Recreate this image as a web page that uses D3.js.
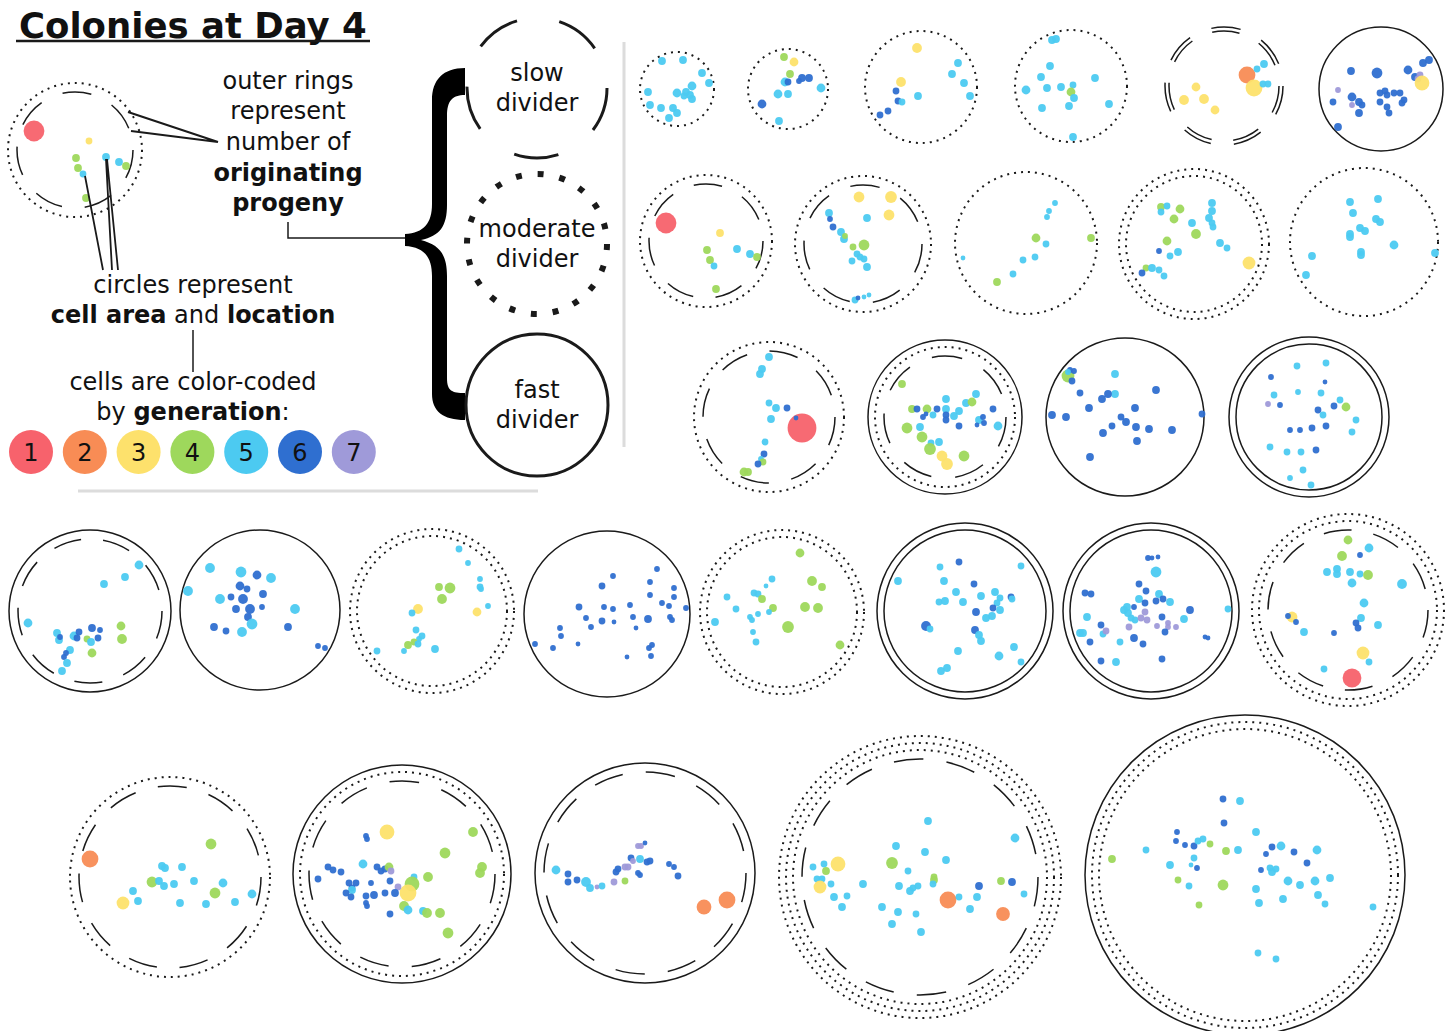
<!DOCTYPE html>
<html>
<head>
<meta charset="utf-8">
<script src="https://cdn.jsdelivr.net/npm/d3@7"></script>
<style>
  body { margin: 0; background: #fff; }
  svg { display: block; }
  text { font-family: "DejaVu Sans", Verdana, sans-serif; fill: #111; }
</style>
</head>
<body>
<div id="chart"></div>
<script>
// ---- data ----
const generations = [1, 2, 3, 4, 5, 6, 7];
const genColors = ['#f7626c', '#f88c55', '#fde16c', '#9ed85c', '#4ccaf1', '#2f6fd0', '#9f9ad9'];
const dividers = ['slow', 'moderate', 'fast'];

// colonies on the plate (µm); rings listed outermost first:
// s = fast divider (solid), o = moderate divider (dotted), d = slow divider (dashed)
const colonyNames = ['key', 'c01', 'c02', 'c03', 'c04', 'c05', 'c06', 'c07', 'c08', 'c09', 'c10', 'c11', 'c12', 'c13',
  'c14', 'c15', 'c16', 'c17', 'c18', 'c19', 'c20', 'c21', 'c22', 'c23', 'c24', 'c25', 'c26', 'c27', 'c28'];
const colonyX = [75, 677, 788, 921, 1071, 1224, 1381, 706, 863, 1026, 1194, 1364, 769, 945, 1125, 1309,
  90, 260, 432, 607, 782, 965, 1151, 1348, 170, 402, 645, 920, 1245];
const colonyY = [150, 89, 89, 87, 86, 86, 89, 241, 244, 243, 244, 242, 417, 417, 417, 417,
  611, 610, 611, 614, 612, 611, 611, 610, 877, 874, 873, 877, 875];
const colonyR = [67, 37, 40, 56, 56, 59, 62, 66, 68, 71, 75, 74, 75, 77, 79, 80,
  81, 80, 82, 83, 82, 88, 88, 96, 100, 109, 110, 141, 160];
const colonyRings = ['od', 'o', 'o', 'o', 'o', 'dd', 's', 'od', 'od', 'o', 'oo', 'o', 'od', 'sod', 's', 'ss',
  'sd', 's', 'oo', 's', 'oo', 'ss', 'ss', 'ood', 'od', 'sod', 'sd', 'oood', 'soo'];

// cells: [x, y, generation, radius] in µm
const cellsKey = [[34,131,1,10],[89,141,3,3],[76,158,4,3.5],[78,168,4,3.5],[83,174,5,3],[106,157,5,3.5],[119,162,5,3.5],[126,166,4,3.5],[86,198,4,3.5]];
const cells01 = [[662,61,5,3.5],[683,60,5,3.5],[702,73,5,3.5],[709,83,5,3.5],[692,86,5,4],[648,92,5,3.5],[677,93,5,4],[686,92,5,3.5],[690,95,5,3.5],[692,99,5,3.5],[684,96,5,3],[650,105,5,3.5],[661,108,5,3.5],[673,108,5,3.5],[677,113,5,3.5],[669,118,5,3.5]];
const cells02 = [[784,57,4,3.5],[794,62,3,4],[790,74,4,3.5],[785,82,5,4],[788,82,6,3],[802,78,6,3.5],[809,78,6,3.5],[799,81,6,2.5],[821,88,5,4],[778,94,5,4],[788,94,5,3.5],[762,104,6,4],[779,121,5,3.5]];
const cells03 = [[917,48,3,4.5],[901,82,3,4.5],[958,63,5,3.5],[952,74,5,3.5],[964,83,5,3.5],[970,96,5,3.5],[918,96,5,3.5],[896,91,6,3],[898,101,6,3],[902,102,5,3],[888,111,6,3],[880,115,6,3]];
const cells04 = [[1052,40,5,3.5],[1056,39,5,3.5],[1050,66,5,3.5],[1041,77,5,3.5],[1026,90,5,4],[1047,88,5,3.5],[1061,87,5,3.5],[1073,85,5,3],[1071,92,4,4],[1074,98,5,3.5],[1069,106,5,3.5],[1042,108,5,3.5],[1095,78,5,3.5],[1109,104,5,3.5],[1073,137,5,3.5]];
const cells05 = [[1247,75,2,8],[1254,88,3,8],[1257,69,5,3],[1264,64,5,3.5],[1263,84,5,3],[1268,84,5,3],[1196,87,3,4],[1184,100,3,4.5],[1204,99,3,4.5],[1215,110,3,4]];
const cells06 = [[1351,71,6,3.5],[1377,73,6,5],[1408,70,6,4],[1423,63,6,3.5],[1429,60,6,3.5],[1415,77,6,3.5],[1420,75,7,3],[1418,79,7,3],[1422,83,3,7],[1338,90,7,2.5],[1352,97,6,4],[1359,102,6,3.5],[1362,105,6,3],[1352,105,7,2.5],[1333,102,6,3],[1359,113,6,3.5],[1338,127,6,3.5],[1380,93,6,3],[1385,91,6,3],[1387,95,6,3],[1394,93,6,3],[1400,93,6,3],[1380,102,6,3],[1387,107,6,3],[1389,113,6,3],[1404,100,6,3],[1402,103,6,3]];
const cells07 = [[666,223,1,10],[720,233,3,3.5],[707,250,4,3.5],[710,260,4,3.5],[714,266,5,3],[737,249,5,3.5],[750,254,5,3.5],[757,257,4,3.5],[716,289,4,3.5]];
const cells08 = [[859,197,3,5],[891,197,3,5.5],[889,215,3,5],[829,213,5,3.5],[830,219,6,2.5],[833,227,6,3],[841,232,5,3.5],[844,239,5,3.5],[845,236,4,2.5],[864,245,4,5],[853,247,4,3],[867,218,5,3.5],[857,254,5,3],[860,257,5,3],[864,259,5,3],[852,261,5,3],[867,267,5,3.5],[855,300,5,3],[858,298,6,2],[864,297,5,2],[869,295,5,2]];
const cells09 = [[1055,203,5,2.5],[1049,211,5,2.5],[1047,217,5,2.5],[1036,238,4,4],[1091,238,4,3.5],[1046,244,5,3],[1035,257,5,3],[1023,260,5,3],[1013,274,5,3],[997,282,4,3.5],[963,258,5,2]];
const cells10 = [[1161,207,4,3.5],[1167,206,5,3],[1161,212,5,3],[1180,209,4,4],[1212,203,5,3.5],[1212,211,5,3.5],[1209,218,5,3.5],[1212,223,5,3],[1213,227,5,3],[1174,219,4,4],[1192,223,5,3.5],[1196,234,4,4.5],[1167,241,4,4],[1220,243,5,3.5],[1227,248,5,3],[1159,251,6,2.5],[1178,252,5,3.5],[1170,256,5,3],[1146,268,4,3],[1152,268,5,3.5],[1159,270,5,3],[1142,273,6,3],[1164,276,5,3],[1249,263,3,6]];
const cells11 = [[1350,202,5,3.5],[1378,199,5,3.5],[1353,213,5,3.5],[1376,219,5,3.5],[1380,222,5,3.5],[1360,228,5,3.5],[1365,231,5,3.5],[1350,234,5,3.5],[1350,237,5,3.5],[1394,245,5,4],[1361,252,5,3.5],[1361,255,5,3.5],[1312,256,5,3.5],[1306,275,5,3.5],[1435,253,5,3.5]];
const cells12 = [[769,357,5,3.5],[762,369,5,3.5],[760,374,5,3.5],[769,403,5,3],[776,408,5,3.5],[787,408,6,3],[771,419,5,3.5],[802,428,1,14],[796,418,6,2],[765,442,5,3],[764,454,6,3],[761,459,5,2.5],[763,462,4,3],[758,464,6,3],[744,472,4,4],[748,472,4,3.5]];
const cells13 = [[902,384,4,3.5],[912,409,4,3.5],[927,409,4,4],[917,409,6,3],[937,409,6,3],[946,399,5,3.5],[946,409,5,3.5],[959,411,5,3.5],[966,403,5,3.5],[972,402,4,4],[976,394,5,3.5],[907,428,4,5],[920,427,5,3.5],[922,437,4,5],[939,442,5,3.5],[931,443,5,3],[930,449,4,5.5],[942,456,3,5],[947,464,3,5.5],[964,456,4,5],[933,415,5,3],[946,415,6,3],[946,420,6,3],[959,426,6,3],[954,416,5,3.5],[923,417,6,2.5],[993,409,6,3],[979,420,5,3.5],[983,417,6,2.5],[984,423,6,2.5],[977,425,6,2],[998,426,5,4],[926,414,6,2]];
const cells14 = [[1068,376,4,6],[1070,370,6,2.5],[1074,371,6,2.5],[1068,372,5,2.5],[1072,381,6,3],[1080,393,6,3],[1115,374,5,3.5],[1115,394,5,3.5],[1108,394,6,3.5],[1102,399,6,3.5],[1156,390,6,3.5],[1052,415,6,3.5],[1066,417,6,3.5],[1089,408,6,3.5],[1135,408,6,3.5],[1121,417,6,3],[1126,422,6,3.5],[1112,426,6,3],[1136,427,6,3.5],[1149,429,6,3.5],[1172,430,6,3.5],[1103,433,6,3.5],[1137,441,6,3.5],[1090,457,6,3.5],[1202,414,6,3]];
const cells15 = [[1297,366,5,3],[1326,363,5,3],[1271,377,6,2.5],[1274,395,5,3],[1268,404,7,2.5],[1280,405,6,2.5],[1298,392,5,2.5],[1321,393,5,3],[1325,382,6,2],[1346,407,4,4],[1334,406,6,3],[1340,400,5,3],[1318,410,6,3],[1326,426,6,3],[1312,428,6,3],[1300,430,6,2.5],[1290,430,6,2.5],[1323,415,5,3],[1356,420,5,3],[1352,432,5,3],[1270,447,5,3],[1316,450,6,3],[1301,452,5,3],[1287,452,5,3],[1303,470,5,3],[1311,485,5,3],[1290,478,5,2.5]];
const cells16 = [[139,565,5,4],[125,577,5,3.5],[104,584,5,3.5],[28,623,5,4],[57,633,5,3.5],[59,640,5,3.5],[60,637,6,2.5],[74,636,5,4],[79,632,6,3],[77,638,6,3],[92,628,6,3.5],[100,630,6,2.5],[87,639,4,3],[91,642,5,3.5],[98,638,6,3],[121,626,4,4],[122,639,4,4.5],[92,653,4,4],[70,650,5,3.5],[66,653,6,2.5],[64,657,6,2.5],[67,663,5,3.5],[62,671,5,3.5]];
const cells17 = [[210,568,5,4.5],[241,572,5,5],[257,575,6,4],[271,578,5,4.5],[188,591,5,4.5],[240,586,6,4],[247,589,6,3],[263,594,6,3.5],[220,599,5,4.5],[231,597,6,3],[243,599,6,4.5],[236,609,6,3.5],[250,609,6,4.5],[262,607,6,2.5],[295,609,5,4.5],[248,617,6,3.5],[252,624,5,5],[214,627,6,3.5],[226,631,6,3],[242,632,5,4.5],[288,627,6,3.5],[318,646,6,2.5],[325,648,6,2.5]];
const cells18 = [[459,549,5,3],[468,563,5,2.5],[480,579,5,2.5],[480,587,5,3],[481,589,5,2.5],[488,606,5,2.5],[477,612,3,4],[439,587,4,3.5],[450,588,4,5],[442,599,4,4.5],[418,609,3,4.5],[412,613,5,3],[416,630,5,3],[422,636,5,3],[419,639,5,2.5],[408,645,4,3.5],[414,642,4,3],[418,644,5,3],[435,649,5,3.5],[377,651,5,3],[404,651,5,2.5]];
const cells19 = [[613,576,6,2.5],[657,569,6,2.5],[602,586,6,3],[650,582,6,2.5],[674,588,6,2.5],[674,597,6,2.5],[650,595,6,2.5],[662,603,6,2.5],[669,606,6,2.5],[686,608,6,2.5],[579,607,6,3],[604,607,6,2.5],[613,609,6,2.5],[630,605,6,2.5],[586,618,6,2.5],[602,621,6,3],[614,622,6,2],[633,617,6,2.5],[648,619,6,3.5],[670,617,6,2.5],[672,620,6,2.5],[560,628,6,2.5],[591,627,6,2.5],[636,628,6,2],[561,636,6,2.5],[578,644,6,2],[535,644,6,2.5],[553,648,6,2.5],[649,648,6,2.5],[652,645,6,2.5],[627,657,6,2],[651,656,6,2.5]];
const cells20 = [[800,553,4,4],[772,579,5,3],[766,586,5,2],[812,581,4,4.5],[822,587,4,3.5],[727,597,5,3],[754,593,5,3],[758,594,5,3],[762,599,4,3.5],[773,608,4,3.5],[736,609,5,3],[715,622,5,3.5],[750,617,5,2.5],[752,620,5,2.5],[758,614,5,2.5],[769,612,5,2.5],[805,607,4,4.5],[818,608,4,4.5],[788,627,4,5.5],[753,632,5,2.5],[756,642,5,3],[840,645,4,4]];
const cells21 = [[959,562,6,3],[940,567,5,3],[1021,566,5,3],[898,581,5,3.5],[944,581,5,3.5],[974,584,6,3],[956,592,5,3.5],[995,592,5,3.5],[981,596,5,3.5],[963,602,5,3.5],[939,602,5,3],[945,601,5,3.5],[1011,597,6,3],[1012,599,5,3],[1000,598,5,3],[997,603,5,3],[993,608,6,3],[1000,610,5,3.5],[976,612,6,3.5],[992,616,5,3.5],[986,618,5,3.5],[926,626,6,4.5],[930,629,5,3],[975,630,6,3.5],[979,635,5,3.5],[981,641,5,3.5],[958,651,5,3.5],[1014,647,5,3.5],[999,656,5,4],[1021,662,5,3],[947,668,5,3.5],[941,671,5,3.5]];
const cells22 = [[1148,558,6,2.5],[1152,558,6,2],[1158,557,6,2],[1156,572,5,5],[1085,593,6,3],[1091,594,6,3],[1139,584,6,3],[1146,591,6,3],[1159,594,5,3.5],[1170,602,5,3.5],[1163,599,6,3],[1156,601,6,3],[1139,599,5,3.5],[1127,607,5,3.5],[1134,607,6,2.5],[1145,603,6,3],[1124,610,5,3.5],[1128,613,5,3.5],[1145,612,7,3],[1135,620,5,3],[1147,620,7,3],[1141,618,7,3],[1131,618,5,3],[1129,627,7,3],[1162,617,6,3],[1157,626,7,2.5],[1168,623,7,2.5],[1168,627,7,2.5],[1176,627,7,2.5],[1184,619,5,3.5],[1190,610,6,3.5],[1101,625,6,3],[1087,617,5,3.5],[1103,634,5,3],[1106,631,7,3],[1080,633,5,3.5],[1083,633,5,3.5],[1165,632,6,3],[1120,642,5,3],[1134,638,6,3.5],[1143,644,6,3],[1090,642,6,3],[1101,661,6,3],[1116,662,5,3.5],[1162,659,6,3],[1205,637,6,2],[1208,638,6,2],[1228,609,5,3]];
const cells23 = [[1348,540,4,4],[1342,556,4,4.5],[1360,555,6,2.5],[1369,548,5,4],[1327,572,5,3.5],[1337,569,5,3.5],[1337,574,5,3.5],[1350,572,5,3.5],[1360,574,5,3],[1368,575,4,4.5],[1352,583,5,4],[1402,584,5,4.5],[1364,603,5,4],[1292,617,3,5],[1288,616,6,2.5],[1296,622,6,2.5],[1361,618,5,3.5],[1356,623,6,3],[1358,628,6,3],[1378,625,5,3.5],[1304,632,5,3.5],[1334,633,6,2.5],[1363,653,3,6],[1369,662,5,3],[1324,669,5,3],[1352,678,1,9]];
const cells24 = [[90,859,2,8],[211,844,4,5],[162,866,5,3.5],[165,868,5,3.5],[182,867,5,3.5],[152,882,4,5],[159,881,5,3.5],[164,886,5,3.5],[174,884,5,3.5],[194,881,5,3.5],[223,883,5,4],[215,893,4,5],[133,891,5,3.5],[138,901,5,3.5],[123,903,3,6],[180,903,5,3.5],[206,904,5,3.5],[235,902,5,3.5],[252,894,5,4]];
const cells25 = [[387,832,3,7],[366,836,6,2.5],[367,839,6,2.5],[473,832,4,4.5],[445,853,4,5],[482,867,4,4.5],[480,873,4,4.5],[363,864,5,4],[328,867,6,3],[333,870,6,3],[341,872,6,3],[318,879,6,3],[377,867,6,3],[381,871,6,3],[385,869,6,3],[389,867,4,4],[391,871,7,3],[390,881,6,3],[414,877,5,3],[428,877,4,4.5],[412,884,4,7],[408,893,3,8],[398,887,7,3],[349,883,6,3],[356,883,6,3],[352,888,6,3],[352,890,5,3.5],[371,883,6,2.5],[346,893,6,3],[351,897,6,3],[366,896,6,3],[374,895,6,3.5],[385,893,6,3],[395,893,6,3.5],[366,903,6,2.5],[367,906,6,2.5],[404,906,4,4.5],[408,910,5,4],[423,911,5,3.5],[427,913,4,4.5],[440,913,4,4.5],[390,914,6,3],[448,933,4,5]];
const cells26 = [[556,870,5,4],[568,874,6,3],[568,882,6,3],[577,880,6,3],[586,882,5,4.5],[590,888,5,3.5],[597,887,7,2],[602,886,5,3],[614,882,7,3],[625,881,4,3],[618,869,6,3],[616,872,6,3],[625,867,7,3],[628,867,7,3],[631,858,6,3],[633,861,7,2.5],[640,859,5,3.5],[647,862,6,3],[650,861,6,3],[638,873,6,2.5],[640,875,6,2.5],[638,846,7,2.5],[641,846,7,2.5],[645,843,6,2],[669,864,6,2.5],[674,867,6,2.5],[678,876,6,3],[704,907,2,7],[727,900,2,8]];
const cells27 = [[928,821,5,3.5],[1015,838,5,4],[896,846,5,3.5],[925,852,5,3.5],[946,860,5,3.5],[892,863,4,5.5],[838,864,3,7],[813,867,5,3],[824,864,5,3],[826,871,4,3.5],[817,879,5,3],[822,879,5,3],[820,887,3,6],[831,884,5,3],[863,884,5,3.5],[834,897,5,3.5],[847,896,5,3],[842,907,5,3.5],[908,871,5,3],[899,886,5,3.5],[910,891,5,3.5],[913,888,5,3],[918,886,5,3],[934,877,4,3],[934,880,4,3.5],[933,884,5,3],[948,900,2,8],[959,897,5,3],[977,897,5,3.5],[970,909,5,3.5],[979,886,6,3.5],[1001,881,4,3.5],[1012,882,6,3.5],[1024,894,5,3],[1003,914,2,6.5],[882,907,5,3.5],[898,912,5,3.5],[916,914,5,3],[892,924,5,3.5],[921,932,5,3.5]];
const cells28 = [[1223,799,6,3],[1240,801,5,3.5],[1224,823,6,3],[1256,832,5,3.5],[1177,832,6,2.5],[1176,841,6,2.5],[1185,845,6,2.5],[1194,846,6,3],[1198,841,5,3],[1203,839,5,3],[1210,844,4,3],[1226,851,4,3.5],[1238,850,5,3.5],[1146,850,5,3],[1112,859,4,3.5],[1194,858,5,3],[1170,865,5,3.5],[1191,865,5,2],[1197,868,6,2.5],[1178,880,4,3],[1189,886,5,3],[1223,885,4,5],[1256,889,5,3.5],[1259,903,5,3.5],[1199,905,4,3],[1272,847,6,3],[1281,846,5,4],[1266,854,6,2.5],[1294,852,6,3],[1317,850,5,4],[1307,863,6,3],[1261,870,6,2.5],[1270,868,5,3],[1272,872,5,3.5],[1276,869,5,3],[1288,881,5,4],[1300,885,5,3.5],[1315,881,5,4],[1330,878,5,3.5],[1318,895,5,3.5],[1283,899,5,3.5],[1325,904,5,3],[1373,907,5,3],[1258,953,5,3],[1276,959,5,3]];

const colonyCells = [cellsKey, cells01, cells02, cells03, cells04, cells05, cells06, cells07, cells08, cells09, cells10,
  cells11, cells12, cells13, cells14, cells15, cells16, cells17, cells18, cells19, cells20, cells21, cells22, cells23,
  cells24, cells25, cells26, cells27, cells28];

// ---- drawing ----
const W = 1452, H = 1031;
const svg = d3.select('#chart').append('svg').attr('width', W).attr('height', H);

const x = d3.scaleLinear().domain([0, 1452]).range([0, W]);
const y = d3.scaleLinear().domain([0, 1031]).range([0, H]);
const size = d3.scaleLinear().domain([0, 14]).range([0, 14]);
const cellSize = d3.scaleLinear().domain([0, 14]).range([0.4, 14.4]);
const color = d3.scaleOrdinal().domain(generations).range(genColors);

const INK = '#1a1a1a';

// ring radii from the outer radius, stepping inward
function ringList(R, rings) {
  let r = R;
  return rings.split('').map((t, i) => {
    if (i > 0) {
      const prev = rings[i - 1];
      r -= t === 'd' ? (prev === 'd' ? 4 : 9) : 7;
    }
    return { t, r };
  });
}

function styleRing(sel, t, r) {
  sel.attr('fill', 'none').attr('stroke', INK);
  if (t === 's') {
    sel.attr('stroke-width', 1.5);
  } else if (t === 'o') {
    sel.attr('stroke-width', 2).attr('stroke-dasharray', '2 5');
  } else {
    const circ = 2 * Math.PI * r;
    const n = Math.max(6, Math.round(circ / 52));
    const p = circ / n;
    sel.attr('stroke-width', 1.5).attr('stroke-dasharray', `${p * 0.56} ${p * 0.44}`);
  }
}

const colonies = colonyNames.map((name, i) => ({
  name, cx: colonyX[i], cy: colonyY[i], R: colonyR[i], rings: colonyRings[i], cells: colonyCells[i]
}));

const g = svg.append('g').attr('class', 'colonies');
const col = g.selectAll('g.colony').data(colonies).join('g').attr('class', 'colony');

col.each(function (d) {
  const sel = d3.select(this);
  ringList(d.R, d.rings).forEach(rg => {
    sel.append('circle')
      .attr('cx', x(d.cx)).attr('cy', y(d.cy)).attr('r', size(rg.r))
      .call(styleRing, rg.t, rg.r);
  });
  sel.selectAll('circle.cell').data(d.cells).join('circle')
    .attr('class', 'cell')
    .attr('cx', c => x(c[0]))
    .attr('cy', c => y(c[1]))
    .attr('r', c => cellSize(c[3]))
    .attr('fill', c => color(c[2]))
    .attr('opacity', 0.95);
});

// ---- title ----
svg.append('text').attr('x', 19).attr('y', 38)
  .attr('font-size', 35.5).attr('font-weight', 'bold')
  .text('Colonies at Day 4');
svg.append('line').attr('x1', 16).attr('x2', 370).attr('y1', 41).attr('y2', 41)
  .attr('stroke', INK).attr('stroke-width', 2.5);

// ---- explanation text ----
const note = svg.append('g').attr('font-size', 24).attr('text-anchor', 'middle');
function noteLine(cx, cy, parts) {
  const t = note.append('text').attr('x', cx).attr('y', cy).style('white-space', 'pre');
  parts.forEach(p => t.append('tspan').attr('font-weight', p[1] ? 'bold' : 'normal').text(p[0]));
}
noteLine(288, 89, [['outer rings']]);
noteLine(288, 119, [['represent']]);
noteLine(288, 150, [['number of']]);
noteLine(288, 181, [['originating', 1]]);
noteLine(288, 211, [['progeny', 1]]);
noteLine(193, 293, [['circles represent']]);
noteLine(193, 323, [['cell area', 1], [' and '], ['location', 1]]);
noteLine(193, 390, [['cells are color-coded']]);
noteLine(193, 420, [['by '], ['generation', 1], [':']]);

// leader lines
const lead = svg.append('g').attr('stroke', INK).attr('stroke-width', 2).attr('fill', 'none');
lead.append('path').attr('d', 'M218,142 L128,112 M218,142 L131,131');
lead.append('path').attr('d', 'M85,176 L103,270 M106,159 L112,270 M107,159 L118,270').attr('stroke-width', 1.8);
lead.append('path').attr('d', 'M288,222 L288,238 L406,238').attr('stroke-width', 1.5);
lead.append('path').attr('d', 'M193,330 L193,372').attr('stroke-width', 1.5);

// generation key
const key = svg.append('g').selectAll('g').data(generations).join('g')
  .attr('transform', (gen, i) => `translate(${31 + i * 53.8},452)`);
key.append('circle').attr('r', 22).attr('fill', gen => color(gen));
key.append('text').attr('text-anchor', 'middle').attr('y', 9).attr('font-size', 24).text(gen => gen);

// gray separators
svg.append('line').attr('x1', 624).attr('x2', 624).attr('y1', 42).attr('y2', 447)
  .attr('stroke', '#dcdcdc').attr('stroke-width', 3);
svg.append('line').attr('x1', 78).attr('x2', 538).attr('y1', 491).attr('y2', 491)
  .attr('stroke', '#dcdcdc').attr('stroke-width', 3);

// brace
svg.append('path')
  .attr('d', 'M465,68 L465,95 C452,95 447,101 447,116 L447,205 C447,226 440,236 421,240 ' +
    'C440,245 447,255 447,276 L447,378 C447,391 452,393 465,393 L465,420 C443,420 432,411 432,394 ' +
    'L432,276 C432,257 424,247 405,246 L405,234 C424,233 432,223 432,204 L432,100 C432,80 443,68 465,68 Z')
  .attr('fill', '#000');

// divider legend circles
const divY = [88, 244, 405];
const dv = svg.append('g').selectAll('g').data(dividers).join('g')
  .attr('transform', (d, i) => `translate(537,${divY[i]})`);
dv.append('circle').attr('r', d => d === 'fast' ? 71 : 70)
  .attr('fill', 'none').attr('stroke', INK)
  .attr('stroke-width', d => d === 'moderate' ? 6 : 3)
  .attr('stroke-dasharray', d => d === 'slow' ? '45 43' : d === 'moderate' ? '6 16.0' : null);
dv.append('text').attr('text-anchor', 'middle').attr('font-size', 24).attr('y', -7).text(d => d);
dv.append('text').attr('text-anchor', 'middle').attr('font-size', 24).attr('y', 23).text('divider');
</script>
</body>
</html>
